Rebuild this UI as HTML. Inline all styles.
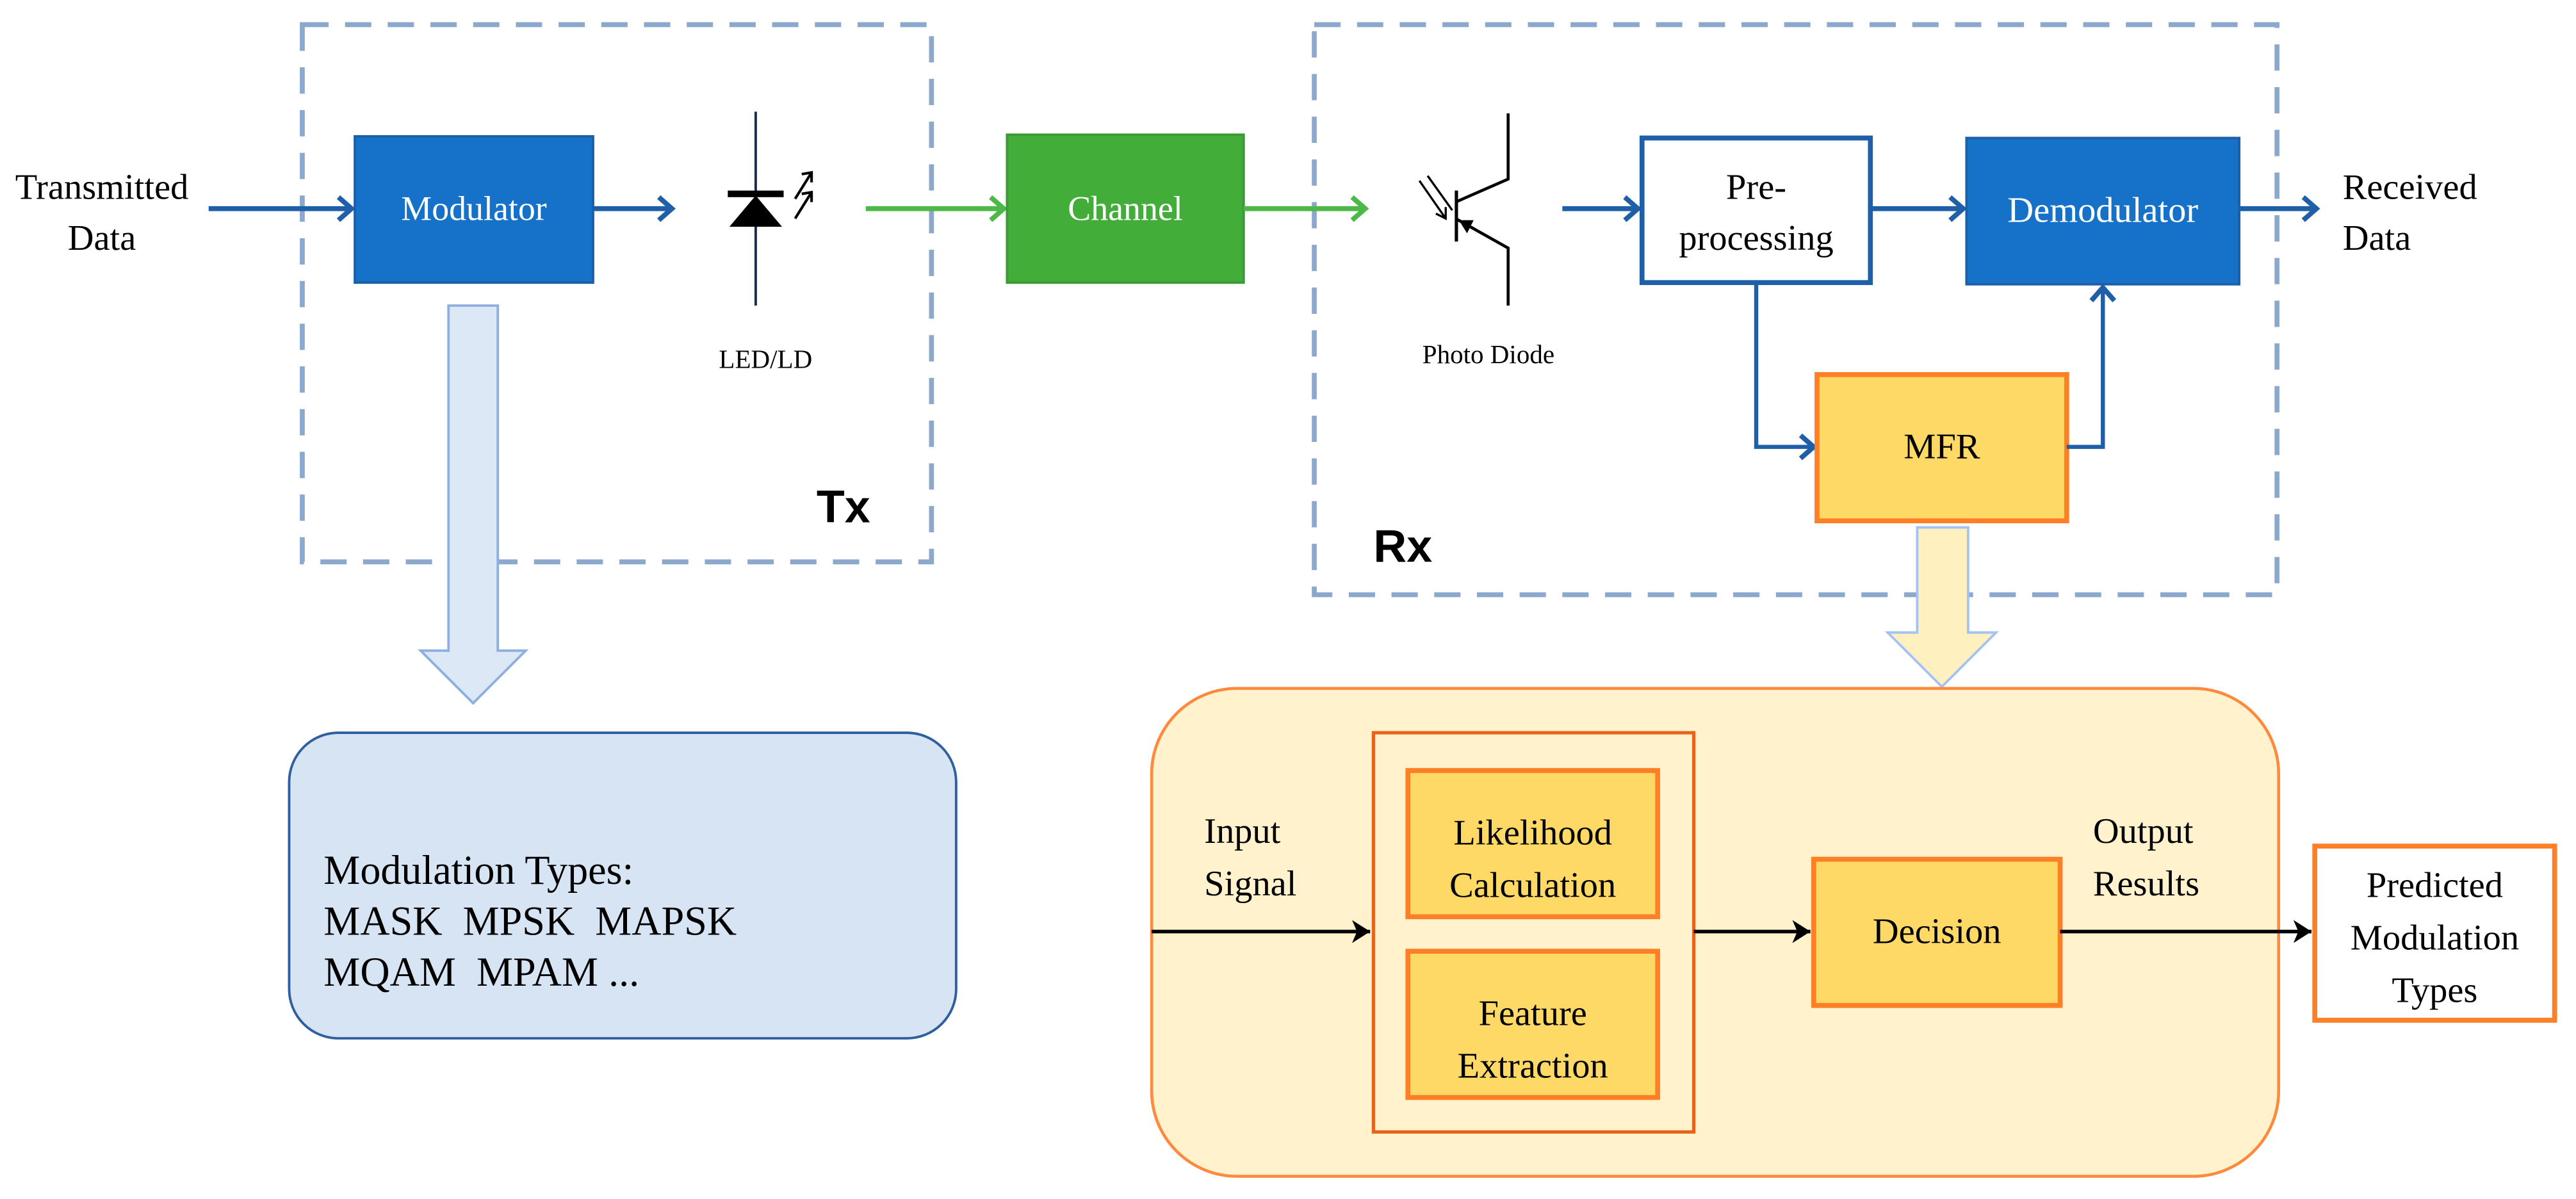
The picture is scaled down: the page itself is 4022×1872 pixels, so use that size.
<!DOCTYPE html>
<html><head><meta charset="utf-8"><style>html,body{margin:0;padding:0;background:#fff}svg{display:block}svg text{font-family:"Liberation Serif","DejaVu Serif",serif !important;fill:#000}svg text.b{font-family:"Liberation Sans","DejaVu Sans",sans-serif !important}</style></head>
<body>
<svg width="4022" height="1872" viewBox="0 0 1568 729.8" xmlns="http://www.w3.org/2000/svg" font-family="Liberation Serif, serif">
<defs>
<marker id="ab" markerWidth="14" markerHeight="18" refX="11" refY="9" orient="auto" markerUnits="userSpaceOnUse"><path d="M3,2 L11,9 L3,16" fill="none" stroke="#1f5fa8" stroke-width="3"/></marker>
<marker id="ag" markerWidth="14" markerHeight="18" refX="11" refY="9" orient="auto" markerUnits="userSpaceOnUse"><path d="M3,2 L11,9 L3,16" fill="none" stroke="#4db848" stroke-width="3"/></marker>
<marker id="ak" markerWidth="12" markerHeight="16" refX="11" refY="8" orient="auto" markerUnits="userSpaceOnUse"><path d="M0,1 L11,8 L0,15 L3,8 Z" fill="#000"/></marker>
</defs>
<rect x="184" y="15" width="383" height="327" fill="none" stroke="#8ca8cc" stroke-width="3" stroke-dasharray="16 10"/>
<rect x="800" y="15" width="586" height="347" fill="none" stroke="#8ca8cc" stroke-width="3" stroke-dasharray="16 10"/>
<text x="62" y="121" font-size="22" text-anchor="middle">Transmitted</text>
<text x="62" y="152" font-size="22" text-anchor="middle">Data</text>
<line x1="127" y1="127" x2="214" y2="127" stroke="#1f5fa8" stroke-width="3" marker-end="url(#ab)"/>
<rect x="216" y="83" width="145" height="89" fill="#1672c8" stroke="#1a5fa8" stroke-width="1.5"/>
<text x="288.5" y="134" font-size="21" text-anchor="middle" style="fill:#fff">Modulator</text>
<line x1="361" y1="127" x2="409" y2="127" stroke="#1f5fa8" stroke-width="3" marker-end="url(#ab)"/>
<line x1="460" y1="68" x2="460" y2="186" stroke="#1a2a4a" stroke-width="1.5"/>
<rect x="443" y="116" width="34" height="4" fill="#000"/>
<path d="M444,138 L476,138 L460,119 Z" fill="#000"/>
<path d="M484,121 L494,105 M488,106 L494,105 L494,111 M484,133 L494,117 M488,118 L494,117 L494,123" stroke="#000" stroke-width="1.6" fill="none"/>
<text x="466" y="224" font-size="16" text-anchor="middle">LED/LD</text>
<text class="b" x="497" y="318" font-size="28" font-weight="bold">Tx</text>
<line x1="527" y1="127" x2="611" y2="127" stroke="#4db848" stroke-width="3" marker-end="url(#ag)"/>
<rect x="613" y="82" width="144" height="90" fill="#43ad3a" stroke="#3a9a33" stroke-width="1.5"/>
<text x="685" y="134" font-size="21" text-anchor="middle" style="fill:#fff">Channel</text>
<line x1="757" y1="127" x2="831" y2="127" stroke="#4db848" stroke-width="3" marker-end="url(#ag)"/>
<line x1="886.5" y1="116" x2="886.5" y2="147" stroke="#000" stroke-width="2"/>
<path d="M886,123 L918,109 L918,69 M886,133 L918,151 L918,186" stroke="#000" stroke-width="1.8" fill="none"/>
<path d="M888,134 L897,134 L893,142 Z" fill="#000"/>
<path d="M864,110 L880,133 M874,130 L880,133 L880,126 M869,107 L884,128" stroke="#000" stroke-width="1.3" fill="none"/>
<text x="906" y="221" font-size="16" text-anchor="middle">Photo Diode</text>
<line x1="951" y1="127" x2="997" y2="127" stroke="#1f5fa8" stroke-width="3" marker-end="url(#ab)"/>
<rect x="999.5" y="84" width="139" height="88" fill="#fff" stroke="#1f5fa8" stroke-width="3"/>
<text x="1069" y="121" font-size="22" text-anchor="middle">Pre-</text>
<text x="1069" y="152" font-size="22" text-anchor="middle">processing</text>
<line x1="1139" y1="127" x2="1195" y2="127" stroke="#1f5fa8" stroke-width="3" marker-end="url(#ab)"/>
<rect x="1197" y="84" width="166" height="89" fill="#1672c8" stroke="#1a5fa8" stroke-width="1.5"/>
<text x="1280" y="135" font-size="22" text-anchor="middle" style="fill:#fff">Demodulator</text>
<line x1="1363" y1="127" x2="1410" y2="127" stroke="#1f5fa8" stroke-width="3" marker-end="url(#ab)"/>
<text x="1426" y="121" font-size="22">Received</text>
<text x="1426" y="152" font-size="22">Data</text>
<polyline points="1069,172 1069,272 1104,272" fill="none" stroke="#1f5fa8" stroke-width="2.5" marker-end="url(#ab)"/>
<rect x="1106" y="228" width="152" height="89" fill="#ffd966" stroke="#ff7f27" stroke-width="3"/>
<text x="1182" y="279" font-size="22" text-anchor="middle">MFR</text>
<polyline points="1258,272 1280,272 1280,175" fill="none" stroke="#1f5fa8" stroke-width="2.5" marker-end="url(#ab)"/>
<text class="b" x="836" y="342" font-size="28" font-weight="bold">Rx</text>
<path d="M273,186 L303,186 L303,396 L320,396 L288,428 L256,396 L273,396 Z" fill="#dde8f6" stroke="#8db0e0" stroke-width="1.5"/>
<path d="M1167,321 L1198,321 L1198,385 L1215,385 L1182,418 L1149,385 L1167,385 Z" fill="#fff0c0" stroke="#a4c2f4" stroke-width="1.5"/>
<rect x="176" y="446" width="406" height="186" rx="30" fill="#d6e4f4" stroke="#2f5f9f" stroke-width="1.5"/>
<text x="197" y="538" font-size="25">Modulation Types:</text>
<text x="197" y="569" font-size="25" xml:space="preserve">MASK  MPSK  MAPSK</text>
<text x="197" y="600" font-size="25" xml:space="preserve">MQAM  MPAM ...</text>
<rect x="701" y="419" width="686" height="297" rx="52" fill="#fff2cc" stroke="#ff8a3d" stroke-width="1.8"/>
<rect x="836" y="446" width="195" height="243" fill="none" stroke="#e8621a" stroke-width="2"/>
<rect x="857" y="469" width="152" height="89" fill="#ffd966" stroke="#ff7f27" stroke-width="3"/>
<text x="933" y="514" font-size="22" text-anchor="middle">Likelihood</text>
<text x="933" y="546" font-size="22" text-anchor="middle">Calculation</text>
<rect x="857" y="579" width="152" height="89" fill="#ffd966" stroke="#ff7f27" stroke-width="3"/>
<text x="933" y="624" font-size="22" text-anchor="middle">Feature</text>
<text x="933" y="656" font-size="22" text-anchor="middle">Extraction</text>
<rect x="1104" y="523" width="150" height="89" fill="#ffd966" stroke="#ff7f27" stroke-width="3"/>
<text x="1179" y="574" font-size="22" text-anchor="middle">Decision</text>
<rect x="1409" y="515" width="146" height="106" fill="#fff" stroke="#ff7f27" stroke-width="3"/>
<text x="1482" y="546" font-size="22" text-anchor="middle">Predicted</text>
<text x="1482" y="578" font-size="22" text-anchor="middle">Modulation</text>
<text x="1482" y="610" font-size="22" text-anchor="middle">Types</text>
<text x="733" y="513" font-size="22">Input</text>
<text x="733" y="545" font-size="22">Signal</text>
<text x="1274" y="513" font-size="22">Output</text>
<text x="1274" y="545" font-size="22">Results</text>
<line x1="701" y1="567" x2="834" y2="567" stroke="#000" stroke-width="2.2" marker-end="url(#ak)"/>
<line x1="1031" y1="567" x2="1102" y2="567" stroke="#000" stroke-width="2.2" marker-end="url(#ak)"/>
<line x1="1254" y1="567" x2="1407" y2="567" stroke="#000" stroke-width="2.2" marker-end="url(#ak)"/>
</svg>
</body></html>
